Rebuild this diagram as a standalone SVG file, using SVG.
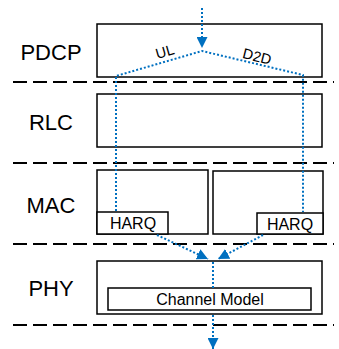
<svg xmlns="http://www.w3.org/2000/svg" width="339" height="349" viewBox="0 0 339 349">
<defs>
<style>
.box{fill:#fff;stroke:#000;stroke-width:1.5}
.sep{stroke:#000;stroke-width:2;stroke-dasharray:14 6;fill:none}
.flow{stroke:#0070C0;stroke-width:2;stroke-dasharray:2 2;fill:none}
.lbl{font-family:"Liberation Sans",Arial,sans-serif;font-size:22px;fill:#000;text-anchor:middle}
.sm{font-family:"Liberation Sans",Arial,sans-serif;font-size:16px;fill:#000;text-anchor:middle}
.cm{font-family:"Liberation Sans",Arial,sans-serif;font-size:16px;fill:#000;text-anchor:middle}
.tag{font-family:"Liberation Sans",Arial,sans-serif;font-size:14.5px;fill:#000;text-anchor:middle}
</style>
<marker id="ah" viewBox="0 0 10 10" refX="10" refY="5" markerWidth="11" markerHeight="11" markerUnits="userSpaceOnUse" orient="auto">
<path d="M0,0 L10,5 L0,10 Z" fill="#0070C0"/>
</marker>
</defs>
<g id="separators">
<line class="sep" x1="13" y1="82" x2="334" y2="82"/>
<line class="sep" x1="13" y1="163" x2="334" y2="163"/>
<line class="sep" x1="13" y1="244" x2="334" y2="244"/>
<line class="sep" x1="13" y1="325" x2="334" y2="325"/>
</g>
<g id="pdcp">
<rect class="box" x="97" y="24" width="225" height="53"/>
<text class="lbl" x="51" y="60">PDCP</text>
</g>
<g id="rlc">
<rect class="box" x="97" y="94" width="225" height="53"/>
<text class="lbl" x="51" y="130">RLC</text>
</g>
<g id="mac">
<text class="lbl" x="51" y="213">MAC</text>
</g>
<g id="mac-left">
<rect class="box" x="97" y="170" width="111" height="64"/>
</g>
<g id="mac-right">
<rect class="box" x="213" y="171" width="110" height="63"/>
</g>
<g id="harq-left">
<rect class="box" x="97" y="212" width="71" height="22"/>
<text class="sm" x="133" y="229">HARQ</text>
</g>
<g id="harq-right">
<rect class="box" x="257" y="213" width="66" height="21"/>
<text class="sm" x="290" y="230">HARQ</text>
</g>
<g id="phy">
<rect class="box" x="97" y="261" width="225" height="53"/>
<text class="lbl" x="51" y="296">PHY</text>
</g>
<g id="channel-model">
<rect class="box" x="108" y="288" width="203" height="22"/>
<text class="cm" x="210" y="304.5">Channel Model</text>
</g>
<g id="connectors">
<line class="flow" x1="202" y1="8" x2="202" y2="48" marker-end="url(#ah)"/>
<polyline class="flow" points="116,211 116,76 202,51 303,75 303,212"/>
<line class="flow" x1="157" y1="235" x2="208" y2="259" marker-end="url(#ah)"/>
<line class="flow" x1="263" y1="235" x2="218" y2="259" marker-end="url(#ah)"/>
<line class="flow" x1="213" y1="262" x2="213" y2="288"/>
<line class="flow" x1="213" y1="315" x2="213" y2="349" marker-end="url(#ah)"/>
<text class="tag" x="165" y="56.5" transform="rotate(-16 165 52)">UL</text>
<text class="tag" x="257" y="61.5" transform="rotate(14 257 57)">D2D</text>
</g>
</svg>
